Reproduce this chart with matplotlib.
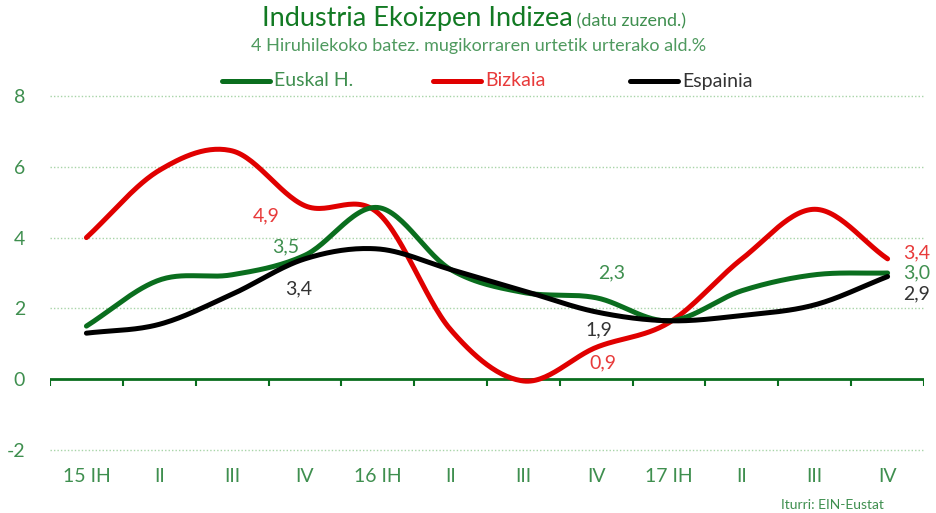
import numpy as np
import matplotlib
matplotlib.use("Agg")
import matplotlib.pyplot as plt
from matplotlib.lines import Line2D

categories = ["15 IH", "II", "III", "IV", "16 IH", "II", "III", "IV", "17 IH", "II", "III", "IV"]
euskal = [1.5, 2.8, 2.95, 3.5, 4.85, 3.1, 2.45, 2.3, 1.65, 2.5, 2.95, 3.0]
bizkaia = [4.0, 5.9, 6.45, 4.9, 4.7, 1.4, -0.05, 0.9, 1.6, 3.4, 4.8, 3.4]
espainia = [1.3, 1.55, 2.4, 3.4, 3.68, 3.1, 2.5, 1.9, 1.65, 1.8, 2.1, 2.9]
yticks = [-2, 0, 2, 4, 6, 8]

plt.rcParams['font.family'] = ['Lato', 'DejaVu Sans']

GREEN = "#0a6e1e"
RED = "#e00000"
BLACK = "#000000"
TXT_GREEN = "#3f8f4f"
TXT_RED = "#e83a3a"
TXT_BLACK = "#333333"


def smooth(y, n=30):
    y = np.asarray(y, float)
    x = np.arange(len(y), dtype=float)
    P = np.concatenate([[2 * y[0] - y[1]], y, [2 * y[-1] - y[-2]]])
    xs, ys = [], []
    for i in range(len(y) - 1):
        p0, p1, p2, p3 = P[i], P[i + 1], P[i + 2], P[i + 3]
        t = np.linspace(0, 1, n, endpoint=(i == len(y) - 2))
        yy = 0.5 * ((2 * p1) + (-p0 + p2) * t + (2 * p0 - 5 * p1 + 4 * p2 - p3) * t ** 2
                    + (-p0 + 3 * p1 - 3 * p2 + p3) * t ** 3)
        xs.append(x[i] + t)
        ys.append(yy)
    return np.concatenate(xs), np.concatenate(ys)


fig = plt.figure(figsize=(9.36, 5.13), dpi=100)
ax = fig.add_axes([50 / 936, 1 - 450 / 513, 874 / 936, 354 / 513])
n = len(categories)
ax.set_xlim(-0.5, n - 0.5)
ax.set_ylim(-2, 8)
for s in ax.spines.values():
    s.set_visible(False)

for yv in yticks:
    if yv != 0:
        ax.axhline(yv, color="#a8d4a8", lw=1.0, ls=(0, (1, 1.5)), zorder=1, clip_on=False)
ax.axhline(0, color=GREEN, lw=2, zorder=2)
for b in np.arange(-0.5, n, 1.0):
    ax.plot([b, b], [0, -0.18], color=GREEN, lw=1.5, zorder=2, solid_capstyle='butt')

ax.set_yticks(yticks)
ax.set_yticklabels([str(v) for v in yticks], fontsize=14, color=TXT_GREEN)
ax.tick_params(axis='y', length=0, pad=18)
ax.set_xticks(np.arange(n))
ax.set_xticklabels(categories, fontsize=14, color=TXT_GREEN)
ax.tick_params(axis='x', length=0, pad=13)

for vals, c, z in [(euskal, GREEN, 4), (bizkaia, RED, 3), (espainia, BLACK, 5)]:
    xs, ys = smooth(vals)
    ax.plot(xs, ys, color=c, lw=3.6, solid_capstyle='round', zorder=z, clip_on=False)

labels = [
    (3, 4.9, "4,9", TXT_RED, (-39, -10)),
    (3, 3.5, "3,5", TXT_GREEN, (-19, 8)),
    (3, 3.4, "3,4", TXT_BLACK, (-6, -30)),
    (7, 2.3, "2,3", TXT_GREEN, (15, 25)),
    (7, 1.9, "1,9", TXT_BLACK, (3, -18)),
    (7, 0.9, "0,9", TXT_RED, (7, -16)),
    (11, 3.4, "3,4", TXT_RED, (29, 6)),
    (11, 3.0, "3,0", TXT_GREEN, (29, 0)),
    (11, 2.9, "2,9", TXT_BLACK, (29, -17)),
]
for xi, yv, t, c, off in labels:
    ax.annotate(t, (xi, yv), xytext=off, textcoords='offset pixels', ha='center', va='center',
                fontsize=14, color=c, zorder=6)

# title
t1 = fig.text(0, 1 - 19 / 513, "Industria Ekoizpen Indizea", fontsize=19.5, color="#127a23", va='center')
t2 = fig.text(0, 1 - 21 / 513, " (datu zuzend.)", fontsize=13, color=TXT_GREEN, va='center')
fig.canvas.draw()
r = fig.canvas.get_renderer()
w1 = t1.get_window_extent(r).width
w2 = t2.get_window_extent(r).width
x0 = (474 - (w1 + w2) / 2)
t1.set_x(x0 / 936)
t2.set_x((x0 + w1) / 936)
fig.text(479 / 936, 1 - 46 / 513, "4 Hiruhilekoko batez. mugikorraren urtetik urterako ald.%",
         fontsize=13, color="#4f9a5f", ha='center', va='center')

# legend
leg = [(222, 270, GREEN, "Euskal H.", TXT_GREEN),
       (433, 481, RED, "Bizkaia", TXT_RED),
       (630, 678, BLACK, "Espainia", TXT_BLACK)]
ly = 1 - 81 / 513
for x1, x2, c, t, tc in leg:
    fig.add_artist(Line2D([x1 / 936, x2 / 936], [ly, ly], color=c, lw=3.6, solid_capstyle='round'))
    fig.text((x2 + 4) / 936, ly, t, fontsize=14, color=tc, va='center')

fig.text(884 / 936, 1 - 505 / 513, "Iturri: EIN-Eustat", fontsize=10, color=TXT_GREEN,
         ha='right', va='center')

fig.savefig("out.png", dpi=100)
